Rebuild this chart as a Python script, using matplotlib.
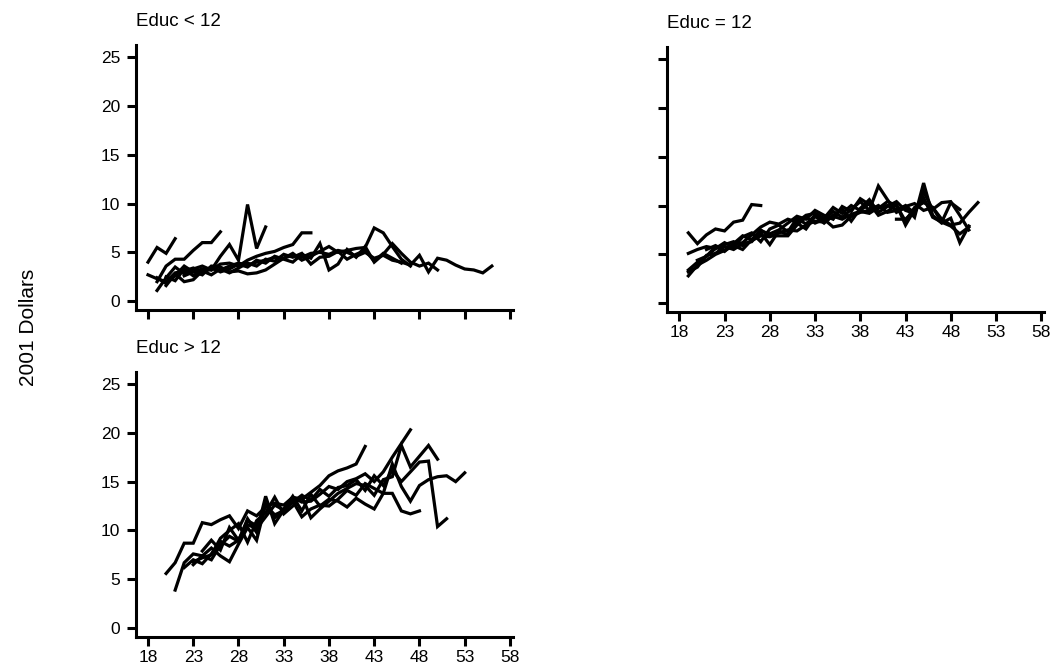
#!/usr/bin/env python3
import matplotlib
matplotlib.use("Agg")
import matplotlib.pyplot as plt

OUTPUT_PATH = "out.png"

AGE_TICKS = [18, 23, 28, 33, 38, 43, 48, 53, 58]
WAGE_TICKS = [0, 5, 10, 15, 20, 25]
PANEL_TITLES = ["Educ < 12", "Educ = 12", "Educ > 12"]
Y_LABEL = "2001 Dollars"

# Educ < 12: first age of each person, then hourly wages year by year
LT12_START = [18, 19, 22, 19, 18, 20, 19, 20]
LT12_WAGES = [
    [4.0, 5.5, 4.9, 6.4],
    [2.0, 3.6, 4.3, 4.3, 5.2, 6.0, 6.0, 7.1],
    [2.6, 3.0, 3.3, 3.2, 4.6, 5.8, 4.2, 9.9, 5.4, 7.6],
    [1.1, 2.4, 3.5, 2.8, 3.3, 3.6, 3.2, 3.8, 3.9, 3.6, 4.2, 4.6, 4.9, 5.1,
     5.5, 5.8, 7.0, 7.0],
    [2.7, 2.3, 2.0, 2.9, 3.1, 3.4, 3.0, 3.3, 3.2, 3.6, 3.9, 3.7, 4.0, 4.2,
     4.5, 4.4, 4.7, 4.5, 4.9, 5.0, 4.8, 5.2, 5.0, 4.6, 5.0, 4.4, 4.7, 4.2,
     4.0, 3.7, 4.7, 3.0, 4.4, 4.2, 3.7, 3.3, 3.2, 2.9, 3.6],
    [2.5, 2.1, 3.3, 2.6, 3.0, 3.5, 3.0, 3.3, 3.8, 3.5, 4.2, 3.9, 4.6, 4.3,
     4.0, 4.8, 4.4, 5.9, 3.2, 3.8, 5.3, 4.5, 5.6, 4.0, 4.8, 5.9, 4.9, 4.0,
     3.6, 3.9, 3.2],
    [2.4, 1.8, 2.6, 3.6, 3.0, 2.7, 3.6, 3.5, 3.0, 3.1, 2.8, 2.9, 3.2, 3.8,
     4.4, 4.9, 4.2, 4.6, 5.1, 5.6, 5.0, 5.2, 5.4, 5.5, 7.5, 7.0, 5.6, 4.3,
     3.6],
    [1.6, 2.8, 2.0, 2.2, 3.1, 2.7, 3.3, 2.9, 3.4, 3.9, 3.6, 4.3, 4.1, 4.8,
     4.5, 4.9, 3.8, 4.5, 4.6, 5.1, 4.3, 4.8, 5.2, 4.1, 4.9, 4.4, 3.9],
]

# Educ = 12
EQ12_START = [19, 19, 19, 19, 21, 20, 42, 19]
EQ12_WAGES = [
    [7.2, 6.1, 7.0, 7.6, 7.4, 8.3, 8.5, 10.1, 10.0],
    [5.1, 5.5, 5.8, 5.6, 6.0, 6.3, 5.9, 6.4, 6.9, 6.8, 7.2, 7.5, 7.4, 8.0,
     8.4, 8.3, 8.9, 8.6, 9.1, 9.4, 9.2, 9.8, 10.0, 9.6, 9.9, 10.2, 9.5, 9.8,
     8.6, 8.0, 8.2, 9.3, 10.3],
    [3.4, 4.2, 4.8, 5.6, 6.2, 5.7, 6.8, 7.2, 6.3, 7.6, 8.0, 7.3, 8.7, 8.1,
     9.0, 8.5, 9.4, 8.8, 9.6, 10.4, 9.5, 12.0, 10.6, 9.3, 9.8, 8.8, 12.3,
     9.0, 8.2, 8.7, 6.2, 7.9],
    [2.8, 3.9, 4.4, 5.0, 5.4, 5.9, 5.5, 6.5, 7.2, 6.0, 7.4, 7.0, 8.2, 7.6,
     8.9, 8.2, 9.0, 9.6, 8.4, 9.7, 10.6, 9.3, 9.9, 10.4, 9.5, 9.2, 11.4,
     9.6, 10.3, 10.4, 9.0, 7.5],
    [5.5, 5.9, 5.4, 6.0, 6.2, 7.0, 7.8, 8.3, 8.1, 8.6, 8.3, 9.0, 9.2, 8.7,
     9.8, 9.2, 10.0, 9.5, 10.2, 9.0, 9.4, 10.1, 8.0, 9.6, 10.8, 8.8, 8.3,
     10.3, 9.6],
    [4.4, 4.8, 5.8, 5.3, 6.1, 6.9, 6.5, 7.5, 6.9, 6.9, 6.9, 8.0, 8.8, 8.2,
     8.6, 7.8, 8.0, 8.9, 9.3, 9.5, 10.0, 9.3, 9.5, 10.0, 9.2],
    [8.6, 8.6, 9.5, 10.5],
    [3.2, 3.7, 4.9, 5.1, 5.8, 5.5, 6.1, 6.3, 7.4, 7.1, 7.5, 8.2, 8.9, 8.6,
     9.5, 9.0, 8.6, 9.9, 9.4, 10.7, 10.1, 9.7, 10.4, 10.0, 8.4, 9.8, 10.3,
     9.8, 8.3, 7.9, 7.1, 7.8],
]

# Educ > 12
GT12_START = [20, 21, 23, 23, 22, 24]
GT12_WAGES = [
    [5.6, 6.7, 8.7, 8.7, 10.8, 10.6, 11.1, 11.5, 10.2, 12.0, 11.5, 12.4,
     12.8, 12.6, 13.4, 13.2, 13.9, 14.6, 15.6, 16.1, 16.4, 16.8, 18.6],
    [3.9, 6.7, 7.6, 7.4, 8.2, 7.4, 6.8, 8.6, 10.3, 9.0, 12.7, 11.3, 12.2,
     13.4, 12.9, 13.0, 13.7, 14.5, 14.2, 15.0, 15.3, 15.8, 15.0, 16.0,
     17.5, 18.9, 20.3],
    [6.5, 7.4, 7.0, 8.5, 9.4, 8.9, 11.2, 9.8, 13.5, 10.7, 12.1, 13.5, 12.0,
     13.7, 12.5, 13.2, 13.0, 12.4, 13.3, 12.7, 12.2, 13.8, 16.8, 14.5, 13.0,
     14.6, 15.2, 15.5, 15.6, 15.0, 15.9],
    [6.8, 7.2, 7.5, 9.2, 10.0, 10.7, 8.8, 11.0, 11.8, 13.4, 11.7, 12.5,
     13.5, 11.3, 12.2, 13.0, 13.8, 14.3, 14.8, 14.6, 13.6, 15.2, 15.5, 18.7,
     16.5, 17.6, 18.7, 17.3],
    [6.2, 7.0, 6.6, 7.6, 8.9, 8.4, 9.0, 10.6, 10.2, 11.4, 12.6, 12.1, 12.9,
     13.6, 13.1, 14.2, 13.5, 14.4, 14.6, 15.2, 14.1, 15.6, 14.6, 16.2, 15.0,
     16.0, 17.0, 17.1, 10.4, 11.2],
    [7.9, 9.0, 8.0, 10.3, 9.0, 11.0, 10.5, 12.6, 11.6, 12.0, 13.0, 11.4,
     12.2, 12.6, 12.5, 13.2, 14.1, 13.6, 14.8, 14.3, 13.8, 13.8, 12.0, 11.7,
     12.0],
]

plt.rcParams["font.family"] = ["Liberation Sans", "DejaVu Sans"]


def style_axes(ax, title, show_x_labels, show_y_labels):
    ax.set_xlim(16.67, 58.33)
    ax.set_ylim(-0.92, 26.2)
    ax.set_xticks(AGE_TICKS)
    ax.set_yticks(WAGE_TICKS)
    for side in ("top", "right"):
        ax.spines[side].set_visible(False)
    for side in ("left", "bottom"):
        ax.spines[side].set_linewidth(2.2)
    ax.tick_params(direction="out", length=6.5, width=2.2, labelsize=12.5)
    ax.tick_params(axis="x", pad=3)
    ax.tick_params(axis="y", pad=5)
    if not show_x_labels:
        ax.set_xticklabels([])
    if not show_y_labels:
        ax.set_yticklabels([])
    ax.set_title(title, loc="left", fontsize=13.5, pad=14)


def draw_panel(ax, starts, wages):
    for start, values in zip(starts, wages):
        ages = [start + i for i in range(len(values))]
        ax.plot(ages, values, color="black", linewidth=2.3,
                solid_joinstyle="miter")


def main():
    fig = plt.figure(figsize=(10.5, 6.7), dpi=100)
    fig.patch.set_facecolor("white")

    ax1 = fig.add_axes([0.1295, 0.537, 0.359, 0.3955])
    ax2 = fig.add_axes([0.6355, 0.534, 0.359, 0.3955])
    ax3 = fig.add_axes([0.1295, 0.049, 0.359, 0.3955])

    draw_panel(ax1, LT12_START, LT12_WAGES)
    draw_panel(ax2, EQ12_START, EQ12_WAGES)
    draw_panel(ax3, GT12_START, GT12_WAGES)

    style_axes(ax1, PANEL_TITLES[0], False, True)
    style_axes(ax2, PANEL_TITLES[1], True, False)
    style_axes(ax3, PANEL_TITLES[2], True, True)

    fig.text(0.027, 1 - 327 / 670, Y_LABEL, rotation=90, fontsize=15,
             ha="center", va="center")

    fig.savefig(OUTPUT_PATH, dpi=100)
    plt.close(fig)


if __name__ == "__main__":
    main()
